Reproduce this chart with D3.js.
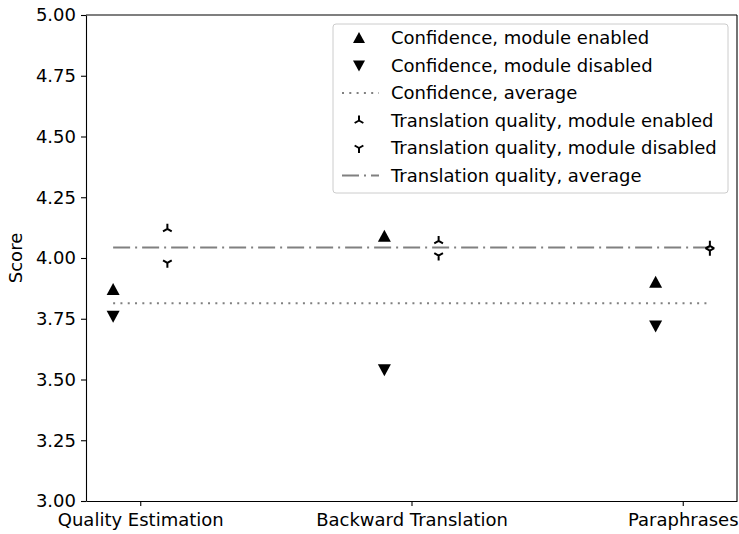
<!DOCTYPE html>
<html lang="en">
<head>
  <meta charset="UTF-8">
  <title>Score by module</title>
  <script src="https://d3js.org/d3.v7.min.js"></script>
  <style>
    body { margin: 0; background: #fff; }
    svg text { font-family: "DejaVu Sans", sans-serif; fill: #000; }
    .axis path, .axis line { stroke: #000; stroke-width: 1.1; }
  </style>
</head>
<body>
  <svg width="739" height="534"></svg>

  <script>
    // data
    const categories = ["Quality Estimation", "Backward Translation", "Paraphrases"];
    const confEnabled = [3.87, 4.09, 3.90];
    const confDisabled = [3.76, 3.54, 3.72];
    const tqEnabled = [4.12, 4.07, 4.05];
    const tqDisabled = [3.98, 4.01, 4.03];
    const yTicks = [3.00, 3.25, 3.50, 3.75, 4.00, 4.25, 4.50, 4.75, 5.00];
    const legendLabels = [
      "Confidence, module enabled",
      "Confidence, module disabled",
      "Confidence, average",
      "Translation quality, module enabled",
      "Translation quality, module disabled",
      "Translation quality, average"
    ];

    const confAvg = d3.mean(confEnabled.concat(confDisabled));
    const tqAvg = d3.mean(tqEnabled.concat(tqDisabled));

    const fontSize = "18px";
    const svg = d3.select("svg");
    const margin = {left: 86, right: 2, top: 15, bottom: 33};
    const width = 739 - margin.left - margin.right;
    const height = 534 - margin.top - margin.bottom;
    const offset = 0.1;

    const x = d3.scaleLinear().domain([-0.2, 2.2]).range([0, width]);
    const y = d3.scaleLinear().domain([3, 5]).range([height, 0]);

    const g = svg.append("g").attr("transform", `translate(${margin.left},${margin.top})`);

    // axes
    g.append("g").attr("class", "axis")
        .attr("transform", `translate(0,${height})`)
        .call(d3.axisBottom(x).tickValues([0, 1, 2]).tickFormat(i => categories[i]).tickSize(5).tickPadding(7).tickSizeOuter(0))
        .call(a => a.selectAll("text").style("font-size", fontSize));
    g.append("g").attr("class", "axis")
        .call(d3.axisLeft(y).tickValues(yTicks).tickFormat(d3.format(".2f")).tickSize(5).tickPadding(5).tickSizeOuter(0))
        .call(a => a.selectAll("text").style("font-size", fontSize));
    // top and right spines
    g.append("line").attr("x1", 0).attr("x2", width).attr("y1", 0).attr("y2", 0)
        .attr("stroke", "#000").attr("stroke-width", 1.1);
    g.append("line").attr("x1", width).attr("x2", width).attr("y1", 0).attr("y2", height)
        .attr("stroke", "#000").attr("stroke-width", 1.1);

    svg.append("text")
        .attr("transform", `translate(22,${margin.top + height / 2}) rotate(-90)`)
        .attr("text-anchor", "middle")
        .style("font-size", fontSize)
        .text("Score");

    // average lines
    const dotted = "2,5.3";
    const dashdot = "17,5,2,5";
    g.append("line")
        .attr("x1", x(-offset)).attr("x2", x(2 + offset))
        .attr("y1", y(confAvg)).attr("y2", y(confAvg))
        .attr("stroke", "#808080").attr("stroke-width", 2).attr("stroke-dasharray", dotted);
    g.append("line")
        .attr("x1", x(-offset)).attr("x2", x(2 + offset))
        .attr("y1", y(tqAvg)).attr("y2", y(tqAvg))
        .attr("stroke", "#808080").attr("stroke-width", 2).attr("stroke-dasharray", dashdot);

    // marker shapes
    function triUp(s) { return `M${-s},${s * 0.85}L${s},${s * 0.85}L0,${-s}Z`; }
    function triDown(s) { return `M${-s},${-s * 0.85}L${s},${-s * 0.85}L0,${s}Z`; }
    function spokeUp(s) { return `M0,0L0,${-s}M0,0L${-s * 0.87},${s * 0.5}M0,0L${s * 0.87},${s * 0.5}`; }
    function spokeDown(s) { return `M0,0L0,${s}M0,0L${-s * 0.87},${-s * 0.5}M0,0L${s * 0.87},${-s * 0.5}`; }

    function drawFilled(vals, dx, shape) {
      g.append("g").selectAll("path")
          .data(vals)
          .enter().append("path")
          .attr("transform", (d, i) => `translate(${x(i + dx)},${y(d)})`)
          .attr("d", shape(6.5))
          .attr("fill", "#000");
    }
    function drawSpoke(vals, dx, shape) {
      g.append("g").selectAll("path")
          .data(vals)
          .enter().append("path")
          .attr("transform", (d, i) => `translate(${x(i + dx)},${y(d)})`)
          .attr("d", shape(5))
          .attr("fill", "none").attr("stroke", "#000").attr("stroke-width", 2);
    }
    drawFilled(confEnabled, -offset, triUp);
    drawFilled(confDisabled, -offset, triDown);
    drawSpoke(tqEnabled, offset, spokeUp);
    drawSpoke(tqDisabled, offset, spokeDown);

    // legend
    const leg = svg.append("g").attr("transform", "translate(333,24)");
    leg.append("rect")
        .attr("width", 395).attr("height", 169).attr("rx", 3)
        .attr("fill", "#fff").attr("fill-opacity", 0.8)
        .attr("stroke", "#ccc").attr("stroke-width", 1);
    const rows = leg.selectAll("g.row")
        .data(legendLabels)
        .enter().append("g")
        .attr("class", "row")
        .attr("transform", (d, i) => `translate(0,${14 + i * 27.5})`);
    rows.append("text")
        .attr("x", 58).attr("dy", "0.35em")
        .style("font-size", fontSize)
        .text(d => d);
    rows.each(function(d, i) {
      const r = d3.select(this);
      if (i === 0) r.append("path").attr("transform", "translate(26,0)").attr("d", triUp(6)).attr("fill", "#000");
      if (i === 1) r.append("path").attr("transform", "translate(26,0)").attr("d", triDown(6)).attr("fill", "#000");
      if (i === 3) r.append("path").attr("transform", "translate(26,0)").attr("d", spokeUp(5)).attr("fill", "none").attr("stroke", "#000").attr("stroke-width", 2);
      if (i === 4) r.append("path").attr("transform", "translate(26,0)").attr("d", spokeDown(5)).attr("fill", "none").attr("stroke", "#000").attr("stroke-width", 2);
      if (i === 2) r.append("line").attr("x1", 9).attr("x2", 46).attr("stroke", "#808080").attr("stroke-width", 2).attr("stroke-dasharray", dotted);
      if (i === 5) r.append("line").attr("x1", 9).attr("x2", 46).attr("stroke", "#808080").attr("stroke-width", 2).attr("stroke-dasharray", dashdot);
    });
  </script>
</body>
</html>
